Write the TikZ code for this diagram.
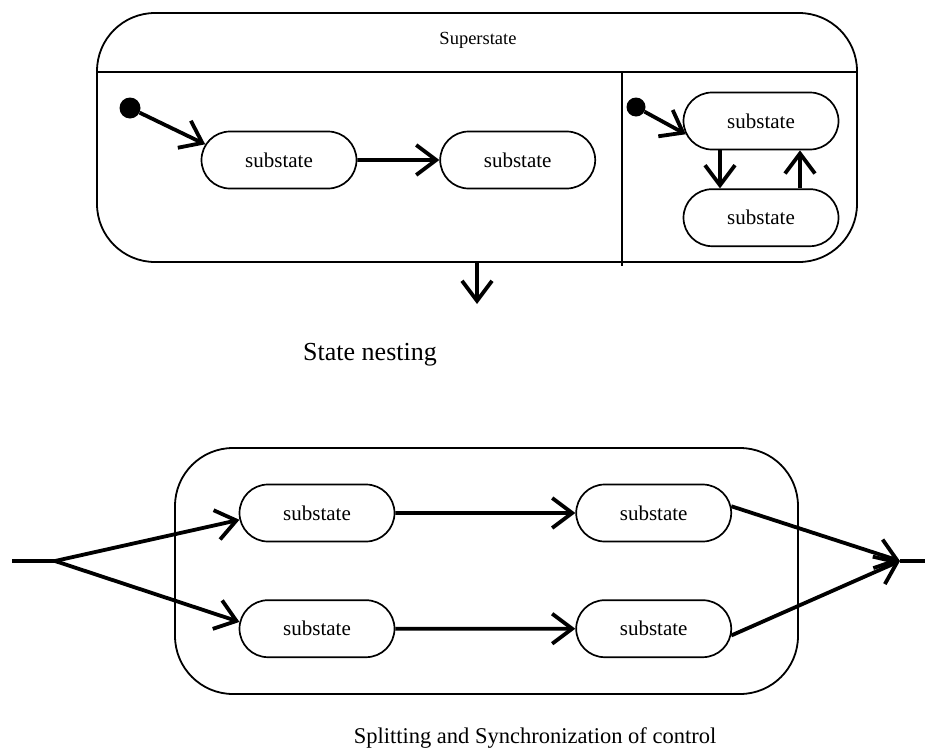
\documentclass[tikz,border=0pt]{standalone}
\usepackage{fontspec}
\setmainfont{Liberation Serif}
\usetikzlibrary{arrows.meta,positioning,shapes.misc}
\tikzset{
  sub/.style={draw, rounded rectangle, line width=1.7pt, minimum width=159pt,
              minimum height=57pt, inner sep=2pt, font=\fontsize{21}{24}\selectfont},
  frame/.style={draw, line width=1.8pt, rounded corners=58pt},
  dot/.style={circle, fill=black, inner sep=0pt, minimum size=21pt},
  ar/.style={-{Straight Barb[length=20pt,width=30pt]}, line width=3.8pt},
  wire/.style={line width=3.8pt},
  lbl/.style={font=\fontsize{26}{30}\selectfont},
}
\begin{document}
\begin{tikzpicture}[x=1pt, y=-1pt]
  \useasboundingbox (0,0) rectangle (925,755);
  % state nesting
  \node[frame, minimum width=760pt, minimum height=249pt] (sup) at (477,137.5) {};
  \node[font=\fontsize{18.5}{22}\selectfont] (suptitle) at (478,40) {Superstate};
  \draw[line width=1.8pt] ([yshift=-60pt]sup.north west) -- ([yshift=-60pt]sup.north east);
  \draw[line width=1.8pt] (622,73) -- (622,266);
  \node[dot] (ia) at (130,108) {};
  \node[sub] (s1) at (279,160) {substate};
  \node[sub, right=82pt of s1] (s2) {substate};
  \node[dot, minimum size=19pt] (ib) at (636,107) {};
  \node[sub] (rt) at (761,121) {substate};
  \node[sub, below=38pt of rt] (rb) {substate};
  \draw[ar] (ia) -- (s1.168);
  \draw[ar] (s1) -- (s2);
  \draw[ar] (ib) -- (rt.190);
  \draw[ar] ([xshift=-41pt]rt.south) -- ([xshift=-41pt]rb.north);
  \draw[ar] ([xshift=39pt]rb.north) -- ([xshift=39pt]rt.south);
  \coordinate (down) at (477,304);
  \draw[ar] (sup.south) -- (down);
  \node[lbl] (nestcap) at (370,355) {State nesting};
  % splitting and synchronization
  \node[frame, minimum width=623pt, minimum height=246pt] (par) at (486.5,571) {};
  \node[sub] (tl) at (317,513) {substate};
  \node[sub, right=180pt of tl] (tr) {substate};
  \node[sub, below=57pt of tl] (bl) {substate};
  \node[sub, right=180pt of bl] (br) {substate};
  \coordinate (in) at (12,561);
  \coordinate (fork) at (55,561);
  \coordinate (join) at (900,561);
  \coordinate (out) at (925,561);
  \draw[wire] (in) -- (fork);
  \draw[ar] (fork) -- (tl.185);
  \draw[ar] (fork) -- (bl.175);
  \draw[ar] (tl) -- (tr);
  \draw[ar] (bl) -- (br);
  \draw[ar] (tr.5) -- (join);
  \draw[ar] (br.-5) -- (join);
  \draw[wire] (join) -- (out);
  \node[lbl, font=\fontsize{22.5}{27}\selectfont] (splitcap) at (535,738) {Splitting and Synchronization of control};
\end{tikzpicture}
\end{document}
